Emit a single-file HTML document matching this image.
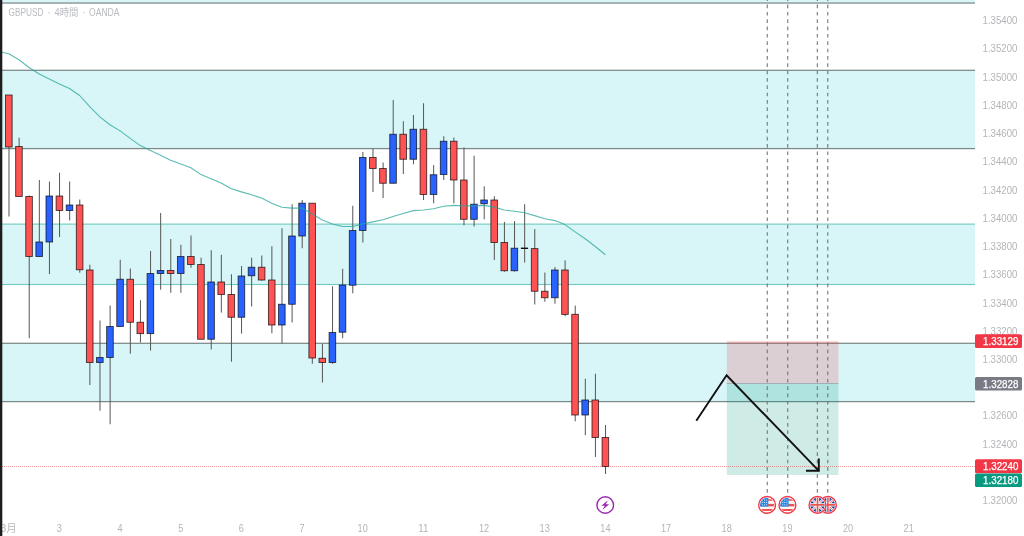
<!DOCTYPE html><html><head><meta charset="utf-8"><title>GBPUSD</title><style>html,body{margin:0;padding:0;background:#fff;overflow:hidden}svg{display:block}text{font-family:"Liberation Sans","Noto Sans CJK JP",sans-serif}</style></head><body><svg width="1024" height="536" viewBox="0 0 1024 536">
<rect x="0" y="0" width="1024" height="536" fill="#fff"/>
<rect x="0" y="0" width="975" height="2.6" fill="#d8f5f8"/>
<rect x="0" y="70.5" width="975" height="77.80000000000001" fill="#d8f5f8"/>
<rect x="0" y="224" width="975" height="60.5" fill="#d8f5f8"/>
<rect x="0" y="343.5" width="975" height="57.80000000000001" fill="#d8f5f8"/>
<rect x="0" y="2.20" width="975" height="1.6" fill="#93a1a3"/>
<rect x="0" y="69.67" width="975" height="1.25" fill="#7b8989"/>
<rect x="0" y="147.97" width="975" height="1.25" fill="#7b8989"/>
<rect x="0" y="342.68" width="975" height="1.25" fill="#7b8989"/>
<rect x="0" y="400.98" width="975" height="1.25" fill="#7b8989"/>
<rect x="0" y="223.55" width="975" height="1.1" fill="#74c9be"/>
<rect x="0" y="283.95" width="975" height="1.1" fill="#74c9be"/>
<rect x="726.8" y="341.8" width="111.7" height="41.70" fill="rgba(242,54,69,0.2)"/>
<rect x="726.8" y="383.5" width="111.7" height="91.50" fill="rgba(8,153,129,0.2)"/>
<rect x="726.8" y="341.4" width="111.7" height="1" fill="rgba(242,54,69,0.25)"/>
<rect x="726.8" y="383" width="111.7" height="1" fill="rgba(120,123,134,0.45)"/>
<line x1="767.25" y1="492.7" x2="767.25" y2="0" stroke="#707070" stroke-width="1.05" stroke-dasharray="3.67 3.67"/>
<line x1="787.75" y1="492.7" x2="787.75" y2="0" stroke="#707070" stroke-width="1.05" stroke-dasharray="3.67 3.67"/>
<line x1="817.3" y1="492.7" x2="817.3" y2="0" stroke="#707070" stroke-width="1.05" stroke-dasharray="3.67 3.67"/>
<line x1="827.8" y1="492.7" x2="827.8" y2="0" stroke="#707070" stroke-width="1.05" stroke-dasharray="3.67 3.67"/>
<line x1="2" y1="466.5" x2="975" y2="466.5" stroke="#f23645" stroke-width="1" stroke-dasharray="1 1" opacity="0.5"/>
<line x1="8.99" y1="95" x2="8.99" y2="216.5" stroke="#555" stroke-width="1"/>
<rect x="5.54" y="95.00" width="6.6" height="52.00" fill="#ff5252" stroke="rgba(0,0,0,0.72)" stroke-width="0.9"/>
<line x1="19.11" y1="137.75" x2="19.11" y2="196.5" stroke="#555" stroke-width="1"/>
<rect x="15.66" y="146.50" width="6.6" height="50.00" fill="#ff5252" stroke="rgba(0,0,0,0.72)" stroke-width="0.9"/>
<line x1="29.22" y1="195.5" x2="29.22" y2="338.25" stroke="#555" stroke-width="1"/>
<rect x="25.77" y="196.50" width="6.6" height="60.00" fill="#ff5252" stroke="rgba(0,0,0,0.72)" stroke-width="0.9"/>
<line x1="39.33" y1="180" x2="39.33" y2="256.5" stroke="#555" stroke-width="1"/>
<rect x="35.88" y="242.00" width="6.6" height="14.50" fill="#2962ff" stroke="rgba(0,0,0,0.72)" stroke-width="0.9"/>
<line x1="49.44" y1="181.5" x2="49.44" y2="274" stroke="#555" stroke-width="1"/>
<rect x="45.99" y="196.00" width="6.6" height="46.00" fill="#2962ff" stroke="rgba(0,0,0,0.72)" stroke-width="0.9"/>
<line x1="59.55" y1="172.75" x2="59.55" y2="237" stroke="#555" stroke-width="1"/>
<rect x="56.10" y="196.00" width="6.6" height="14.50" fill="#ff5252" stroke="rgba(0,0,0,0.72)" stroke-width="0.9"/>
<line x1="69.66" y1="181.5" x2="69.66" y2="220.5" stroke="#555" stroke-width="1"/>
<rect x="66.21" y="205.00" width="6.6" height="5.50" fill="#2962ff" stroke="rgba(0,0,0,0.72)" stroke-width="0.9"/>
<line x1="79.77" y1="199.5" x2="79.77" y2="272.75" stroke="#555" stroke-width="1"/>
<rect x="76.32" y="205.00" width="6.6" height="64.75" fill="#ff5252" stroke="rgba(0,0,0,0.72)" stroke-width="0.9"/>
<line x1="89.88" y1="264.75" x2="89.88" y2="385" stroke="#555" stroke-width="1"/>
<rect x="86.43" y="270.00" width="6.6" height="92.50" fill="#ff5252" stroke="rgba(0,0,0,0.72)" stroke-width="0.9"/>
<line x1="99.99" y1="320.5" x2="99.99" y2="410.75" stroke="#555" stroke-width="1"/>
<rect x="96.54" y="357.50" width="6.6" height="5.00" fill="#2962ff" stroke="rgba(0,0,0,0.72)" stroke-width="0.9"/>
<line x1="110.11" y1="305.5" x2="110.11" y2="424.25" stroke="#555" stroke-width="1"/>
<rect x="106.66" y="326.50" width="6.6" height="31.00" fill="#2962ff" stroke="rgba(0,0,0,0.72)" stroke-width="0.9"/>
<line x1="120.22" y1="259.75" x2="120.22" y2="326.5" stroke="#555" stroke-width="1"/>
<rect x="116.77" y="279.25" width="6.6" height="47.25" fill="#2962ff" stroke="rgba(0,0,0,0.72)" stroke-width="0.9"/>
<line x1="130.33" y1="268.5" x2="130.33" y2="353.75" stroke="#555" stroke-width="1"/>
<rect x="126.88" y="279.25" width="6.6" height="43.00" fill="#ff5252" stroke="rgba(0,0,0,0.72)" stroke-width="0.9"/>
<line x1="140.44" y1="300.25" x2="140.44" y2="342.5" stroke="#555" stroke-width="1"/>
<rect x="136.99" y="322.25" width="6.6" height="11.35" fill="#ff5252" stroke="rgba(0,0,0,0.72)" stroke-width="0.9"/>
<line x1="150.55" y1="251" x2="150.55" y2="350.5" stroke="#555" stroke-width="1"/>
<rect x="147.10" y="273.50" width="6.6" height="60.10" fill="#2962ff" stroke="rgba(0,0,0,0.72)" stroke-width="0.9"/>
<line x1="160.66" y1="213" x2="160.66" y2="289.75" stroke="#555" stroke-width="1"/>
<rect x="157.21" y="270.50" width="6.6" height="3.00" fill="#2962ff" stroke="rgba(0,0,0,0.72)" stroke-width="0.9"/>
<line x1="170.77" y1="239" x2="170.77" y2="292.75" stroke="#555" stroke-width="1"/>
<rect x="167.32" y="270.50" width="6.6" height="3.00" fill="#ff5252" stroke="rgba(0,0,0,0.72)" stroke-width="0.9"/>
<line x1="180.88" y1="244.75" x2="180.88" y2="292.75" stroke="#555" stroke-width="1"/>
<rect x="177.43" y="256.50" width="6.6" height="17.00" fill="#2962ff" stroke="rgba(0,0,0,0.72)" stroke-width="0.9"/>
<line x1="190.99" y1="235.5" x2="190.99" y2="267.75" stroke="#555" stroke-width="1"/>
<rect x="187.54" y="256.50" width="6.6" height="8.00" fill="#ff5252" stroke="rgba(0,0,0,0.72)" stroke-width="0.9"/>
<line x1="201.10" y1="257.75" x2="201.10" y2="339.25" stroke="#555" stroke-width="1"/>
<rect x="197.65" y="264.50" width="6.6" height="74.75" fill="#ff5252" stroke="rgba(0,0,0,0.72)" stroke-width="0.9"/>
<line x1="211.22" y1="250.25" x2="211.22" y2="349.5" stroke="#555" stroke-width="1"/>
<rect x="207.77" y="282.00" width="6.6" height="57.25" fill="#2962ff" stroke="rgba(0,0,0,0.72)" stroke-width="0.9"/>
<line x1="221.33" y1="254.75" x2="221.33" y2="312.6" stroke="#555" stroke-width="1"/>
<rect x="217.88" y="282.00" width="6.6" height="12.50" fill="#ff5252" stroke="rgba(0,0,0,0.72)" stroke-width="0.9"/>
<line x1="231.44" y1="274.25" x2="231.44" y2="361.75" stroke="#555" stroke-width="1"/>
<rect x="227.99" y="294.50" width="6.6" height="22.75" fill="#ff5252" stroke="rgba(0,0,0,0.72)" stroke-width="0.9"/>
<line x1="241.55" y1="266" x2="241.55" y2="333.5" stroke="#555" stroke-width="1"/>
<rect x="238.10" y="276.00" width="6.6" height="41.25" fill="#2962ff" stroke="rgba(0,0,0,0.72)" stroke-width="0.9"/>
<line x1="251.66" y1="257.75" x2="251.66" y2="306.5" stroke="#555" stroke-width="1"/>
<rect x="248.21" y="267.25" width="6.6" height="8.50" fill="#2962ff" stroke="rgba(0,0,0,0.72)" stroke-width="0.9"/>
<line x1="261.77" y1="255.5" x2="261.77" y2="280.75" stroke="#555" stroke-width="1"/>
<rect x="258.32" y="267.25" width="6.6" height="12.75" fill="#ff5252" stroke="rgba(0,0,0,0.72)" stroke-width="0.9"/>
<line x1="271.88" y1="246.25" x2="271.88" y2="333.25" stroke="#555" stroke-width="1"/>
<rect x="268.43" y="280.00" width="6.6" height="45.00" fill="#ff5252" stroke="rgba(0,0,0,0.72)" stroke-width="0.9"/>
<line x1="281.99" y1="228.25" x2="281.99" y2="343.25" stroke="#555" stroke-width="1"/>
<rect x="278.54" y="304.25" width="6.6" height="20.75" fill="#2962ff" stroke="rgba(0,0,0,0.72)" stroke-width="0.9"/>
<line x1="292.10" y1="204.2" x2="292.10" y2="322.5" stroke="#555" stroke-width="1"/>
<rect x="288.65" y="236.00" width="6.6" height="68.25" fill="#2962ff" stroke="rgba(0,0,0,0.72)" stroke-width="0.9"/>
<line x1="302.21" y1="200" x2="302.21" y2="248.25" stroke="#555" stroke-width="1"/>
<rect x="298.76" y="203.20" width="6.6" height="32.80" fill="#2962ff" stroke="rgba(0,0,0,0.72)" stroke-width="0.9"/>
<line x1="312.32" y1="203.2" x2="312.32" y2="363.75" stroke="#555" stroke-width="1"/>
<rect x="308.88" y="203.20" width="6.6" height="154.80" fill="#ff5252" stroke="rgba(0,0,0,0.72)" stroke-width="0.9"/>
<line x1="322.44" y1="343.75" x2="322.44" y2="382.5" stroke="#555" stroke-width="1"/>
<rect x="318.99" y="358.25" width="6.6" height="4.25" fill="#ff5252" stroke="rgba(0,0,0,0.72)" stroke-width="0.9"/>
<line x1="332.55" y1="286.25" x2="332.55" y2="363.75" stroke="#555" stroke-width="1"/>
<rect x="329.10" y="332.50" width="6.6" height="30.00" fill="#2962ff" stroke="rgba(0,0,0,0.72)" stroke-width="0.9"/>
<line x1="342.66" y1="268.75" x2="342.66" y2="338.25" stroke="#555" stroke-width="1"/>
<rect x="339.21" y="285.00" width="6.6" height="47.20" fill="#2962ff" stroke="rgba(0,0,0,0.72)" stroke-width="0.9"/>
<line x1="352.77" y1="205.8" x2="352.77" y2="293.25" stroke="#555" stroke-width="1"/>
<rect x="349.32" y="230.50" width="6.6" height="54.70" fill="#2962ff" stroke="rgba(0,0,0,0.72)" stroke-width="0.9"/>
<line x1="362.88" y1="152" x2="362.88" y2="242.5" stroke="#555" stroke-width="1"/>
<rect x="359.43" y="157.50" width="6.6" height="73.00" fill="#2962ff" stroke="rgba(0,0,0,0.72)" stroke-width="0.9"/>
<line x1="372.99" y1="148.75" x2="372.99" y2="192" stroke="#555" stroke-width="1"/>
<rect x="369.54" y="157.50" width="6.6" height="11.00" fill="#ff5252" stroke="rgba(0,0,0,0.72)" stroke-width="0.9"/>
<line x1="383.10" y1="162.5" x2="383.10" y2="198" stroke="#555" stroke-width="1"/>
<rect x="379.65" y="168.50" width="6.6" height="14.75" fill="#ff5252" stroke="rgba(0,0,0,0.72)" stroke-width="0.9"/>
<line x1="393.21" y1="100" x2="393.21" y2="183.25" stroke="#555" stroke-width="1"/>
<rect x="389.76" y="134.25" width="6.6" height="49.00" fill="#2962ff" stroke="rgba(0,0,0,0.72)" stroke-width="0.9"/>
<line x1="403.32" y1="121.25" x2="403.32" y2="174" stroke="#555" stroke-width="1"/>
<rect x="399.87" y="134.25" width="6.6" height="25.00" fill="#ff5252" stroke="rgba(0,0,0,0.72)" stroke-width="0.9"/>
<line x1="413.44" y1="115" x2="413.44" y2="164.25" stroke="#555" stroke-width="1"/>
<rect x="409.99" y="129.25" width="6.6" height="30.00" fill="#2962ff" stroke="rgba(0,0,0,0.72)" stroke-width="0.9"/>
<line x1="423.55" y1="103.25" x2="423.55" y2="200" stroke="#555" stroke-width="1"/>
<rect x="420.10" y="129.25" width="6.6" height="65.25" fill="#ff5252" stroke="rgba(0,0,0,0.72)" stroke-width="0.9"/>
<line x1="433.66" y1="165" x2="433.66" y2="203.3" stroke="#555" stroke-width="1"/>
<rect x="430.21" y="174.75" width="6.6" height="19.75" fill="#2962ff" stroke="rgba(0,0,0,0.72)" stroke-width="0.9"/>
<line x1="443.77" y1="136.25" x2="443.77" y2="180" stroke="#555" stroke-width="1"/>
<rect x="440.32" y="141.25" width="6.6" height="33.25" fill="#2962ff" stroke="rgba(0,0,0,0.72)" stroke-width="0.9"/>
<line x1="453.88" y1="137.5" x2="453.88" y2="203.3" stroke="#555" stroke-width="1"/>
<rect x="450.43" y="141.25" width="6.6" height="38.75" fill="#ff5252" stroke="rgba(0,0,0,0.72)" stroke-width="0.9"/>
<line x1="463.99" y1="147.5" x2="463.99" y2="225.3" stroke="#555" stroke-width="1"/>
<rect x="460.54" y="180.00" width="6.6" height="39.30" fill="#ff5252" stroke="rgba(0,0,0,0.72)" stroke-width="0.9"/>
<line x1="474.10" y1="155.75" x2="474.10" y2="226.5" stroke="#555" stroke-width="1"/>
<rect x="470.65" y="204.20" width="6.6" height="15.10" fill="#2962ff" stroke="rgba(0,0,0,0.72)" stroke-width="0.9"/>
<line x1="484.21" y1="186.25" x2="484.21" y2="219.3" stroke="#555" stroke-width="1"/>
<rect x="480.76" y="200.00" width="6.6" height="3.75" fill="#2962ff" stroke="rgba(0,0,0,0.72)" stroke-width="0.9"/>
<line x1="494.32" y1="196.25" x2="494.32" y2="260" stroke="#555" stroke-width="1"/>
<rect x="490.87" y="200.00" width="6.6" height="42.50" fill="#ff5252" stroke="rgba(0,0,0,0.72)" stroke-width="0.9"/>
<line x1="504.43" y1="221.9" x2="504.43" y2="271.75" stroke="#555" stroke-width="1"/>
<rect x="500.98" y="242.50" width="6.6" height="28.25" fill="#ff5252" stroke="rgba(0,0,0,0.72)" stroke-width="0.9"/>
<line x1="514.54" y1="221.1" x2="514.54" y2="271.5" stroke="#555" stroke-width="1"/>
<rect x="511.09" y="248.20" width="6.6" height="22.55" fill="#2962ff" stroke="rgba(0,0,0,0.72)" stroke-width="0.9"/>
<line x1="524.66" y1="204.2" x2="524.66" y2="262.5" stroke="#555" stroke-width="1"/>
<rect x="520.91" y="247.60" width="7.2" height="1.4" fill="#111"/>
<line x1="534.77" y1="229.1" x2="534.77" y2="304.5" stroke="#555" stroke-width="1"/>
<rect x="531.32" y="248.60" width="6.6" height="42.65" fill="#ff5252" stroke="rgba(0,0,0,0.72)" stroke-width="0.9"/>
<line x1="544.88" y1="272.5" x2="544.88" y2="301.75" stroke="#555" stroke-width="1"/>
<rect x="541.43" y="291.25" width="6.6" height="6.50" fill="#ff5252" stroke="rgba(0,0,0,0.72)" stroke-width="0.9"/>
<line x1="554.99" y1="267" x2="554.99" y2="303.75" stroke="#555" stroke-width="1"/>
<rect x="551.54" y="270.00" width="6.6" height="27.75" fill="#2962ff" stroke="rgba(0,0,0,0.72)" stroke-width="0.9"/>
<line x1="565.10" y1="260.3" x2="565.10" y2="316.25" stroke="#555" stroke-width="1"/>
<rect x="561.65" y="270.00" width="6.6" height="44.40" fill="#ff5252" stroke="rgba(0,0,0,0.72)" stroke-width="0.9"/>
<line x1="575.21" y1="305.6" x2="575.21" y2="421.25" stroke="#555" stroke-width="1"/>
<rect x="571.76" y="314.30" width="6.6" height="100.70" fill="#ff5252" stroke="rgba(0,0,0,0.72)" stroke-width="0.9"/>
<line x1="585.32" y1="378.75" x2="585.32" y2="435.25" stroke="#555" stroke-width="1"/>
<rect x="581.87" y="400.00" width="6.6" height="15.00" fill="#2962ff" stroke="rgba(0,0,0,0.72)" stroke-width="0.9"/>
<line x1="595.43" y1="373.75" x2="595.43" y2="457" stroke="#555" stroke-width="1"/>
<rect x="591.98" y="400.00" width="6.6" height="37.50" fill="#ff5252" stroke="rgba(0,0,0,0.72)" stroke-width="0.9"/>
<line x1="605.54" y1="425" x2="605.54" y2="474" stroke="#555" stroke-width="1"/>
<rect x="602.09" y="437.50" width="6.6" height="29.00" fill="#ff5252" stroke="rgba(0,0,0,0.72)" stroke-width="0.9"/>
<polyline points="-1.27,51.5 8.84,53.75 18.96,59.75 29.07,67.5 39.18,74 49.29,79 59.40,84 69.51,88.5 79.62,95.5 89.73,106.7 99.84,116.9 109.96,124.75 120.07,130.9 130.18,138.4 140.29,145.6 150.40,150.4 160.51,155.25 170.62,160.25 180.73,164 190.84,167.75 200.95,174.6 211.07,178.75 221.18,183.1 231.29,188.75 241.40,191.9 251.51,194.75 261.62,198.1 271.73,203.2 281.84,207.25 291.95,208.1 302.06,208.1 312.18,214 322.29,220 332.40,224 342.51,226.5 352.62,226.5 362.73,224 372.84,221.9 382.95,219.75 393.06,216.5 403.17,213.5 413.29,210.6 423.40,210 433.51,208.75 443.62,206.25 453.73,205.4 463.84,205.9 473.95,205.9 484.06,205.4 494.17,207.1 504.28,210 514.39,211.25 524.51,212.75 534.62,215.6 544.73,218.75 554.84,220.6 564.95,224.6 575.06,231.9 585.17,238.75 595.28,246.5 605.39,254.75" fill="none" stroke="#26a69a" stroke-width="1.1" stroke-linejoin="round" opacity="0.75"/>
<polyline points="696.3,420.8 726.6,375.3 818.8,470.8" fill="none" stroke="#111" stroke-width="1.9" stroke-linejoin="miter"/>
<polyline points="806,470.8 818.8,470.8 818.8,458.6" fill="none" stroke="#111" stroke-width="1.9"/>
<circle cx="605.25" cy="505" r="8.3" fill="#fff" stroke="#9c27b0" stroke-width="1.4"/>
<polygon points="607.9,500.2 601.4,505.8 604.8,505.8 602.4,510 609.2,504.2 605.8,504.2" fill="#9c27b0"/>
<g transform="translate(767.1,504.9)"><circle r="9.1" fill="#fff"/><circle r="8.4" fill="none" stroke="#f23645" stroke-width="1.35"/><clipPath id="f1"><circle r="7.1"/></clipPath><g clip-path="url(#f1)"><rect x="-8" y="-8" width="16" height="16" fill="#fafafa"/><rect x="-8" y="-5.7" width="16" height="1.6" fill="#ef5350"/><rect x="-8" y="-1" width="16" height="2.5" fill="#ef5350"/><rect x="-8" y="4.1" width="16" height="2" fill="#ef5350"/><rect x="-8" y="-8" width="9.2" height="9.7" fill="#2a8be6"/><circle cx="-4.7" cy="-4.9" r="0.55" fill="#d6eafc"/><circle cx="-2.6" cy="-4.9" r="0.55" fill="#d6eafc"/><circle cx="-0.5" cy="-4.9" r="0.55" fill="#d6eafc"/><circle cx="-4.7" cy="-2.5" r="0.55" fill="#d6eafc"/><circle cx="-2.6" cy="-2.5" r="0.55" fill="#d6eafc"/><circle cx="-0.5" cy="-2.5" r="0.55" fill="#d6eafc"/><circle cx="-4.7" cy="-0.1" r="0.55" fill="#d6eafc"/><circle cx="-2.6" cy="-0.1" r="0.55" fill="#d6eafc"/><circle cx="-0.5" cy="-0.1" r="0.55" fill="#d6eafc"/></g></g>
<g transform="translate(787.4,504.9)"><circle r="9.1" fill="#fff"/><circle r="8.4" fill="none" stroke="#f23645" stroke-width="1.35"/><clipPath id="f2"><circle r="7.1"/></clipPath><g clip-path="url(#f2)"><rect x="-8" y="-8" width="16" height="16" fill="#fafafa"/><rect x="-8" y="-5.7" width="16" height="1.6" fill="#ef5350"/><rect x="-8" y="-1" width="16" height="2.5" fill="#ef5350"/><rect x="-8" y="4.1" width="16" height="2" fill="#ef5350"/><rect x="-8" y="-8" width="9.2" height="9.7" fill="#2a8be6"/><circle cx="-4.7" cy="-4.9" r="0.55" fill="#d6eafc"/><circle cx="-2.6" cy="-4.9" r="0.55" fill="#d6eafc"/><circle cx="-0.5" cy="-4.9" r="0.55" fill="#d6eafc"/><circle cx="-4.7" cy="-2.5" r="0.55" fill="#d6eafc"/><circle cx="-2.6" cy="-2.5" r="0.55" fill="#d6eafc"/><circle cx="-0.5" cy="-2.5" r="0.55" fill="#d6eafc"/><circle cx="-4.7" cy="-0.1" r="0.55" fill="#d6eafc"/><circle cx="-2.6" cy="-0.1" r="0.55" fill="#d6eafc"/><circle cx="-0.5" cy="-0.1" r="0.55" fill="#d6eafc"/></g></g>
<g transform="translate(827.9,504.9)"><circle r="9.1" fill="#fff"/><circle r="8.4" fill="none" stroke="#f23645" stroke-width="1.35"/><clipPath id="f4"><circle r="7.1"/></clipPath><g clip-path="url(#f4)"><rect x="-8" y="-8" width="16" height="16" fill="#1247a8"/><path d="M-8,-8L8,8M8,-8L-8,8" stroke="#fafafa" stroke-width="2.4"/><path d="M-8,-8L8,8M8,-8L-8,8" stroke="#ef5350" stroke-width="0.8"/><path d="M0,-8V8M-8,0H8" stroke="#fafafa" stroke-width="3.3"/><path d="M0,-8V8M-8,0H8" stroke="#ef5350" stroke-width="1.6"/></g></g>
<g transform="translate(817.5,504.9)"><circle r="9.1" fill="#fff"/><circle r="8.4" fill="none" stroke="#f23645" stroke-width="1.35"/><clipPath id="f3"><circle r="7.1"/></clipPath><g clip-path="url(#f3)"><rect x="-8" y="-8" width="16" height="16" fill="#1247a8"/><path d="M-8,-8L8,8M8,-8L-8,8" stroke="#fafafa" stroke-width="2.4"/><path d="M-8,-8L8,8M8,-8L-8,8" stroke="#ef5350" stroke-width="0.8"/><path d="M0,-8V8M-8,0H8" stroke="#fafafa" stroke-width="3.3"/><path d="M0,-8V8M-8,0H8" stroke="#ef5350" stroke-width="1.6"/></g></g>
<text x="982.6" y="24.25" font-size="10.2" fill="#b4b5b8"  textLength="34.8" lengthAdjust="spacingAndGlyphs">1.35400</text>
<text x="982.6" y="52.48" font-size="10.2" fill="#b4b5b8"  textLength="34.8" lengthAdjust="spacingAndGlyphs">1.35200</text>
<text x="982.6" y="80.71" font-size="10.2" fill="#b4b5b8"  textLength="34.8" lengthAdjust="spacingAndGlyphs">1.35000</text>
<text x="982.6" y="108.94" font-size="10.2" fill="#b4b5b8"  textLength="34.8" lengthAdjust="spacingAndGlyphs">1.34800</text>
<text x="982.6" y="137.17" font-size="10.2" fill="#b4b5b8"  textLength="34.8" lengthAdjust="spacingAndGlyphs">1.34600</text>
<text x="982.6" y="165.40" font-size="10.2" fill="#b4b5b8"  textLength="34.8" lengthAdjust="spacingAndGlyphs">1.34400</text>
<text x="982.6" y="193.63" font-size="10.2" fill="#b4b5b8"  textLength="34.8" lengthAdjust="spacingAndGlyphs">1.34200</text>
<text x="982.6" y="221.86" font-size="10.2" fill="#b4b5b8"  textLength="34.8" lengthAdjust="spacingAndGlyphs">1.34000</text>
<text x="982.6" y="250.09" font-size="10.2" fill="#b4b5b8"  textLength="34.8" lengthAdjust="spacingAndGlyphs">1.33800</text>
<text x="982.6" y="278.32" font-size="10.2" fill="#b4b5b8"  textLength="34.8" lengthAdjust="spacingAndGlyphs">1.33600</text>
<text x="982.6" y="306.55" font-size="10.2" fill="#b4b5b8"  textLength="34.8" lengthAdjust="spacingAndGlyphs">1.33400</text>
<text x="982.6" y="334.78" font-size="10.2" fill="#b4b5b8"  textLength="34.8" lengthAdjust="spacingAndGlyphs">1.33200</text>
<text x="982.6" y="363.01" font-size="10.2" fill="#b4b5b8"  textLength="34.8" lengthAdjust="spacingAndGlyphs">1.33000</text>
<text x="982.6" y="419.47" font-size="10.2" fill="#b4b5b8"  textLength="34.8" lengthAdjust="spacingAndGlyphs">1.32600</text>
<text x="982.6" y="447.70" font-size="10.2" fill="#b4b5b8"  textLength="34.8" lengthAdjust="spacingAndGlyphs">1.32400</text>
<text x="982.6" y="504.16" font-size="10.2" fill="#b4b5b8"  textLength="34.8" lengthAdjust="spacingAndGlyphs">1.32000</text>
<rect x="975" y="334.2" width="47" height="13.80" rx="1.5" fill="#f23645"/>
<text x="983.1" y="345" font-size="10.2" fill="#fff" stroke="#fff" stroke-width="0.25"  textLength="35.3" lengthAdjust="spacingAndGlyphs">1.33129</text>
<rect x="975" y="377" width="47" height="13.60" rx="1.5" fill="#787b86"/>
<text x="983.1" y="388" font-size="10.2" fill="#fff" stroke="#fff" stroke-width="0.25"  textLength="35.3" lengthAdjust="spacingAndGlyphs">1.32828</text>
<rect x="975" y="459.3" width="47" height="13.90" rx="1.5" fill="#f23645"/>
<text x="983.1" y="470" font-size="10.2" fill="#fff" stroke="#fff" stroke-width="0.25"  textLength="35.3" lengthAdjust="spacingAndGlyphs">1.32240</text>
<rect x="975" y="473.6" width="47" height="13.40" rx="1.5" fill="#089981"/>
<text x="983.1" y="484" font-size="10.2" fill="#fff" stroke="#fff" stroke-width="0.25"  textLength="35.3" lengthAdjust="spacingAndGlyphs">1.32180</text>
<text x="56.85" y="532" font-size="10.4" fill="#b4b5b8"  textLength="5.1" lengthAdjust="spacingAndGlyphs">3</text>
<text x="117.45" y="532" font-size="10.4" fill="#b4b5b8"  textLength="5.1" lengthAdjust="spacingAndGlyphs">4</text>
<text x="178.15" y="532" font-size="10.4" fill="#b4b5b8"  textLength="5.1" lengthAdjust="spacingAndGlyphs">5</text>
<text x="238.85" y="532" font-size="10.4" fill="#b4b5b8"  textLength="5.1" lengthAdjust="spacingAndGlyphs">6</text>
<text x="299.45" y="532" font-size="10.4" fill="#b4b5b8"  textLength="5.1" lengthAdjust="spacingAndGlyphs">7</text>
<text x="357.60" y="532" font-size="10.4" fill="#b4b5b8"  textLength="10.2" lengthAdjust="spacingAndGlyphs">10</text>
<text x="418.30" y="532" font-size="10.4" fill="#b4b5b8"  textLength="10.2" lengthAdjust="spacingAndGlyphs">11</text>
<text x="478.90" y="532" font-size="10.4" fill="#b4b5b8"  textLength="10.2" lengthAdjust="spacingAndGlyphs">12</text>
<text x="539.60" y="532" font-size="10.4" fill="#b4b5b8"  textLength="10.2" lengthAdjust="spacingAndGlyphs">13</text>
<text x="600.30" y="532" font-size="10.4" fill="#b4b5b8"  textLength="10.2" lengthAdjust="spacingAndGlyphs">14</text>
<text x="660.90" y="532" font-size="10.4" fill="#b4b5b8"  textLength="10.2" lengthAdjust="spacingAndGlyphs">17</text>
<text x="721.60" y="532" font-size="10.4" fill="#b4b5b8"  textLength="10.2" lengthAdjust="spacingAndGlyphs">18</text>
<text x="782.30" y="532" font-size="10.4" fill="#b4b5b8"  textLength="10.2" lengthAdjust="spacingAndGlyphs">19</text>
<text x="842.90" y="532" font-size="10.4" fill="#b4b5b8"  textLength="10.2" lengthAdjust="spacingAndGlyphs">20</text>
<text x="903.60" y="532" font-size="10.4" fill="#b4b5b8"  textLength="10.2" lengthAdjust="spacingAndGlyphs">21</text>
<text x="8.6" y="531.8" font-size="10.4" fill="#b4b5b8" text-anchor="middle" >3月</text>
<text y="15.7" font-size="10.2" fill="#b9bbc0" ><tspan x="8.6" textLength="34.9" lengthAdjust="spacingAndGlyphs">GBPUSD</tspan><tspan x="44.5"> · </tspan><tspan x="54.5" textLength="23.9" lengthAdjust="spacingAndGlyphs">4時間</tspan><tspan x="79.3"> · </tspan><tspan x="89.1" textLength="30.4" lengthAdjust="spacingAndGlyphs">OANDA</tspan></text>
<rect x="0" y="0" width="2.1" height="536" fill="#1e1e1e"/>
<rect x="2.1" y="0" width="0.9" height="536" fill="#1e1e1e" opacity="0.25"/>
</svg></body></html>
